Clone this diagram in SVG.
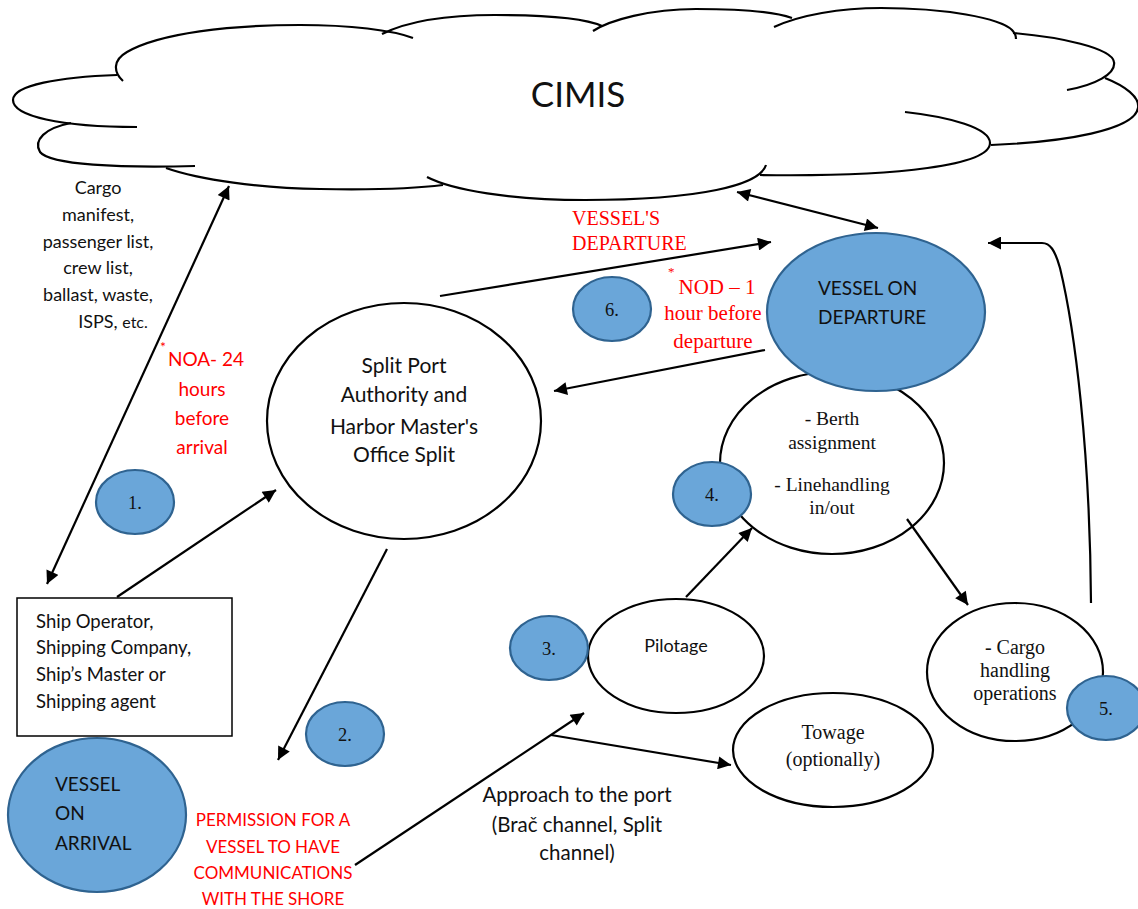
<svg xmlns="http://www.w3.org/2000/svg" width="1138" height="909" viewBox="0 0 1138 909">
<defs>
<marker id="ah" viewBox="0 0 10 10" refX="10" refY="5" markerWidth="15" markerHeight="13" markerUnits="userSpaceOnUse" orient="auto-start-reverse">
<path d="M0,0 L10,5 L0,10 z" fill="#000"/>
</marker>
<style>
.cl{fill:none;stroke:#000;stroke-width:2.2}
.el{fill:#fff;stroke:#000;stroke-width:2.2}
.bl{fill:#6aa6d9;stroke:#2f6390;stroke-width:2.2}
.cn{fill:none;stroke:#000;stroke-width:2.2}
.sa{font-family:Lato,"Liberation Sans",sans-serif;fill:#111}
.se{font-family:"Liberation Serif",serif;fill:#111}
.red{fill:#ff0000}
.mid{text-anchor:middle}
</style>
</defs>
<rect width="1138" height="909" fill="#fff"/>
<g id="cimis">
<path class="cl" d="M117,75 C60,77 13,85 13,100 C13,116 60,127 137,127"/>
<path class="cl" d="M123,81 C113,72 113,60 127,52 C160,33 230,25 300,25 C350,25 392,30 413,38"/>
<path class="cl" d="M382,34 C410,20 450,15 495,15 C545,15 585,18 602,26"/>
<path class="cl" d="M593,31 C610,20 650,9 696,9 C740,9 775,12 792,18"/>
<path class="cl" d="M774,27 C800,15 840,8 881,8 C945,8 1000,18 1012,30 C1015,33 1016,36 1016,39"/>
<path class="cl" d="M1013,33 C1060,37 1112,48 1114,62 C1116,74 1095,85 1067,90"/>
<path class="cl" d="M1105,78 C1125,86 1140,97 1138,108 C1135,130 1065,142 991,145"/>
<path class="cl" d="M905,112 C950,117 990,128 990,143 C990,165 900,177 760,175"/>
<path class="cl" d="M766,165 C760,185 700,200 585,200 C510,200 452,190 427,177"/>
<path class="cl" d="M166,168 C200,180 260,188 320,189 C380,190 420,188 443,185"/>
<path class="cl" d="M71,123 C45,128 33,140 40,152 C50,165 120,168 195,166"/>
<text class="sa mid" x="578" y="107" font-size="35">CIMIS</text>
</g>
<g id="cargo-docs">
<text class="sa mid" font-size="18"><tspan x="98" y="194">Cargo</tspan><tspan x="98" y="221">manifest,</tspan><tspan x="98" y="248">passenger list,</tspan><tspan x="98" y="274">crew list,</tspan><tspan x="98" y="301">ballast, waste,</tspan><tspan x="113" y="328">ISPS, <tspan font-size="16">etc.</tspan></tspan></text>
</g>
<g id="noa">
<text class="sa red" x="160" y="352" font-size="14">*</text>
<text class="sa red mid" font-size="19"><tspan x="206" y="366">NOA- 24</tspan><tspan x="202" y="396">hours</tspan><tspan x="202" y="425">before</tspan><tspan x="202" y="454">arrival</tspan></text>
</g>
<g id="split">
<ellipse class="el" cx="404" cy="421" rx="137" ry="118"/>
<text class="sa mid" font-size="21"><tspan x="404" y="373">Split Port</tspan><tspan x="404" y="402">Authority and</tspan><tspan x="404" y="434">Harbor Master's</tspan><tspan x="404" y="462">Office Split</tspan></text>
</g>
<g id="operator">
<rect x="17" y="598" width="215" height="138" fill="#fff" stroke="#000" stroke-width="1.5"/>
<text class="sa" font-size="18.5"><tspan x="36" y="628">Ship Operator,</tspan><tspan x="36" y="654">Shipping Company,</tspan><tspan x="36" y="681">Ship’s Master or</tspan><tspan x="36" y="708">Shipping agent</tspan></text>
</g>
<g id="arrival">
<ellipse class="bl" cx="97" cy="815" rx="89" ry="77"/>
<text class="sa" font-size="19"><tspan x="55" y="791">VESSEL</tspan><tspan x="55" y="820">ON</tspan><tspan x="55" y="850">ARRIVAL</tspan></text>
</g>
<g id="permission">
<text class="sa red mid" font-size="17"><tspan x="273" y="826">PERMISSION FOR A</tspan><tspan x="273" y="853">VESSEL TO HAVE</tspan><tspan x="273" y="879">COMMUNICATIONS</tspan><tspan x="273" y="905">WITH THE SHORE</tspan></text>
</g>
<g id="approach">
<text class="sa mid" font-size="20.5"><tspan x="577" y="802">Approach to the port</tspan><tspan x="577" y="832">(Brač channel, Split</tspan><tspan x="577" y="860">channel)</tspan></text>
</g>
<g id="pilotage">
<ellipse class="el" cx="676" cy="656" rx="88" ry="57"/>
<text class="sa mid" x="676" y="652" font-size="18">Pilotage</text>
</g>
<g id="towage">
<ellipse class="el" cx="833" cy="750" rx="100" ry="57"/>
<text class="se mid" font-size="20"><tspan x="833" y="739">Towage</tspan><tspan x="833" y="766">(optionally)</tspan></text>
</g>
<g id="cargo-handling">
<ellipse class="el" cx="1015" cy="672" rx="88" ry="69"/>
<text class="se mid" font-size="20"><tspan x="1015" y="654">- Cargo</tspan><tspan x="1015" y="677">handling</tspan><tspan x="1015" y="700">operations</tspan></text>
</g>
<g id="berth">
<ellipse class="el" cx="832" cy="463" rx="112" ry="91"/>
<text class="se mid" font-size="19.5"><tspan x="832" y="425">- Berth</tspan><tspan x="832" y="449">assignment</tspan><tspan x="832" y="491">- Linehandling</tspan><tspan x="832" y="514">in/out</tspan></text>
</g>
<g id="departure">
<ellipse class="bl" cx="876" cy="312" rx="109" ry="79"/>
<text class="sa" font-size="19"><tspan x="818" y="295">VESSEL ON</tspan><tspan x="818" y="324">DEPARTURE</tspan></text>
</g>
<g id="vessels-departure-label">
<text class="se red" font-size="20"><tspan x="572" y="225">VESSEL'S</tspan><tspan x="572" y="250">DEPARTURE</tspan></text>
</g>
<g id="nod">
<text class="se red" x="668" y="276" font-size="13">*</text>
<text class="se red mid" font-size="21"><tspan x="717" y="294">NOD – 1</tspan><tspan x="713" y="320">hour before</tspan><tspan x="713" y="348">departure</tspan></text>
</g>
<g id="step1"><ellipse class="bl" cx="135" cy="502" rx="39" ry="32"/><text class="se mid" x="135" y="509" font-size="18.5">1.</text></g>
<g id="step2"><ellipse class="bl" cx="345" cy="734" rx="39" ry="32"/><text class="se mid" x="345" y="741" font-size="18.5">2.</text></g>
<g id="step3"><ellipse class="bl" cx="549" cy="648" rx="39" ry="32"/><text class="se mid" x="549" y="655" font-size="18.5">3.</text></g>
<g id="step4"><ellipse class="bl" cx="712" cy="494" rx="39" ry="32"/><text class="se mid" x="712" y="501" font-size="18.5">4.</text></g>
<g id="step5"><ellipse class="bl" cx="1106" cy="708" rx="39" ry="32"/><text class="se mid" x="1106" y="715" font-size="18.5">5.</text></g>
<g id="step6"><ellipse class="bl" cx="612" cy="309" rx="39" ry="32"/><text class="se mid" x="612" y="316" font-size="18.5">6.</text></g>
<g id="connectors">
<path class="cn" d="M47,584 L229,186" marker-start="url(#ah)" marker-end="url(#ah)"/>
<path class="cn" d="M117,597 L276,490" marker-end="url(#ah)"/>
<path class="cn" d="M387,549 L278,760" marker-end="url(#ah)"/>
<path class="cn" d="M355,865 L584,713" marker-end="url(#ah)"/>
<path class="cn" d="M551,735 L731,765" marker-end="url(#ah)"/>
<path class="cn" d="M440,296 L771,242" marker-end="url(#ah)"/>
<path class="cn" d="M765,350 L554,391" marker-end="url(#ah)"/>
<path class="cn" d="M737,192 L878,228" marker-start="url(#ah)" marker-end="url(#ah)"/>
<path class="cn" d="M686,597 L752,528" marker-end="url(#ah)"/>
<path class="cn" d="M907,519 L968,605" marker-end="url(#ah)"/>
<path class="cn" d="M1091,603 C1090,450 1075,330 1060,268 C1055,250 1050,243 1042,243 L988,243" marker-end="url(#ah)"/>
</g>
</svg>
